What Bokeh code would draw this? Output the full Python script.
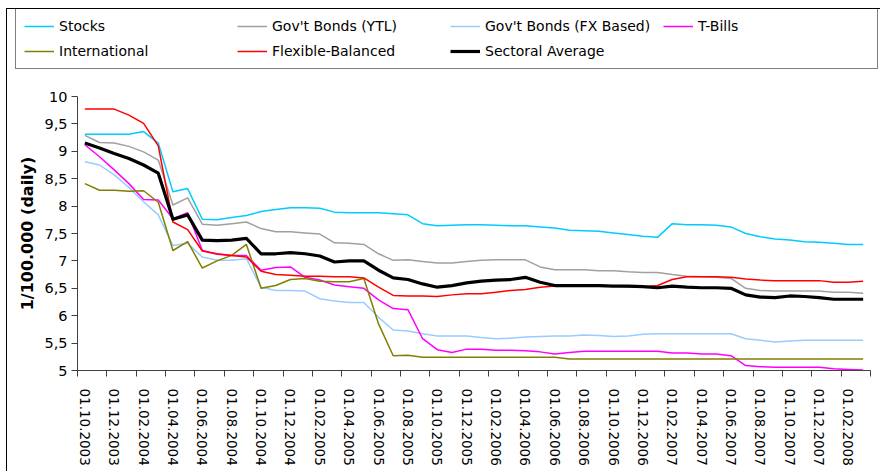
from bokeh.plotting import figure
from bokeh.models import Range1d, FixedTicker, Legend, LegendItem
from bokeh.embed import file_html
from bokeh.resources import INLINE

# monthly categories 01.10.2003 ... 01.03.2008 (index positions 0..53)
months = ["01.10.2003", "01.11.2003", "01.12.2003",
          "01.01.2004", "01.02.2004", "01.03.2004", "01.04.2004", "01.05.2004", "01.06.2004",
          "01.07.2004", "01.08.2004", "01.09.2004", "01.10.2004", "01.11.2004", "01.12.2004",
          "01.01.2005", "01.02.2005", "01.03.2005", "01.04.2005", "01.05.2005", "01.06.2005",
          "01.07.2005", "01.08.2005", "01.09.2005", "01.10.2005", "01.11.2005", "01.12.2005",
          "01.01.2006", "01.02.2006", "01.03.2006", "01.04.2006", "01.05.2006", "01.06.2006",
          "01.07.2006", "01.08.2006", "01.09.2006", "01.10.2006", "01.11.2006", "01.12.2006",
          "01.01.2007", "01.02.2007", "01.03.2007", "01.04.2007", "01.05.2007", "01.06.2007",
          "01.07.2007", "01.08.2007", "01.09.2007", "01.10.2007", "01.11.2007", "01.12.2007",
          "01.01.2008", "01.02.2008", "01.03.2008"]

stocks = [9.31, 9.31, 9.31, 9.31, 9.36, 9.15, 8.26, 8.32, 7.76,
          7.75, 7.79, 7.83, 7.90, 7.94, 7.97, 7.97, 7.96, 7.89,
          7.88, 7.88, 7.88, 7.86, 7.84, 7.68, 7.64, 7.65, 7.66,
          7.66, 7.65, 7.64, 7.64, 7.62, 7.60, 7.56, 7.55, 7.54,
          7.51, 7.48, 7.45, 7.43, 7.68, 7.66, 7.66, 7.65, 7.62,
          7.50, 7.44, 7.40, 7.38, 7.35, 7.34, 7.32, 7.30, 7.30]

govt_ytl = [9.29, 9.16, 9.15, 9.09, 8.99, 8.84, 8.02, 8.15, 7.67,
            7.65, 7.68, 7.71, 7.59, 7.53, 7.53, 7.51, 7.49, 7.33,
            7.32, 7.30, 7.13, 7.01, 7.02, 6.99, 6.96, 6.96, 6.99,
            7.01, 7.02, 7.02, 7.02, 6.89, 6.84, 6.84, 6.84, 6.82,
            6.82, 6.80, 6.79, 6.79, 6.75, 6.72, 6.71, 6.70, 6.68,
            6.50, 6.46, 6.45, 6.45, 6.45, 6.45, 6.43, 6.43, 6.41]

govt_fx = [8.81, 8.75, 8.57, 8.34, 8.08, 7.84, 7.28, 7.32, 7.07,
           7.01, 7.01, 7.04, 6.52, 6.46, 6.46, 6.45, 6.31, 6.27,
           6.24, 6.24, 5.97, 5.74, 5.72, 5.67, 5.63, 5.63, 5.63,
           5.60, 5.58, 5.59, 5.61, 5.62, 5.63, 5.63, 5.65, 5.64,
           5.62, 5.63, 5.66, 5.67, 5.67, 5.67, 5.67, 5.67, 5.67,
           5.58, 5.55, 5.52, 5.54, 5.55, 5.55, 5.55, 5.55, 5.55]

t_bills = [9.12, 8.90, 8.66, 8.41, 8.12, 8.11, 7.77, 7.88, 7.19,
           7.12, 7.10, 7.10, 6.83, 6.88, 6.89, 6.70, 6.65, 6.56,
           6.53, 6.50, 6.29, 6.13, 6.11, 5.58, 5.38, 5.33, 5.39,
           5.39, 5.37, 5.37, 5.36, 5.34, 5.30, 5.33, 5.35, 5.35,
           5.35, 5.35, 5.35, 5.35, 5.32, 5.32, 5.30, 5.30, 5.27,
           5.09, 5.07, 5.06, 5.06, 5.06, 5.06, 5.03, 5.02, 5.01]

international = [8.41, 8.29, 8.29, 8.27, 8.28, 8.07, 7.19, 7.35, 6.87,
                 7.00, 7.10, 7.30, 6.50, 6.55, 6.66, 6.68, 6.63, 6.62,
                 6.62, 6.68, 5.85, 5.27, 5.28, 5.24, 5.24, 5.24, 5.24,
                 5.24, 5.24, 5.24, 5.24, 5.24, 5.24, 5.21, 5.21, 5.21,
                 5.21, 5.21, 5.21, 5.21, 5.21, 5.21, 5.21, 5.21, 5.21,
                 5.21, 5.21, 5.21, 5.21, 5.21, 5.21, 5.21, 5.21, 5.21]

flexible = [9.77, 9.77, 9.77, 9.66, 9.51, 9.10, 7.71, 7.57, 7.18,
            7.13, 7.10, 7.07, 6.81, 6.75, 6.74, 6.72, 6.72, 6.71,
            6.71, 6.69, 6.52, 6.37, 6.36, 6.36, 6.35, 6.38, 6.40,
            6.40, 6.43, 6.46, 6.48, 6.52, 6.54, 6.54, 6.54, 6.54,
            6.54, 6.53, 6.53, 6.55, 6.66, 6.71, 6.71, 6.71, 6.70,
            6.67, 6.65, 6.64, 6.64, 6.64, 6.64, 6.61, 6.61, 6.63]

sectoral = [9.15, 9.06, 8.96, 8.87, 8.75, 8.60, 7.76, 7.84, 7.38,
            7.37, 7.38, 7.41, 7.13, 7.13, 7.15, 7.13, 7.09, 6.98,
            7.00, 7.00, 6.83, 6.69, 6.66, 6.58, 6.52, 6.55, 6.60,
            6.63, 6.65, 6.66, 6.70, 6.61, 6.55, 6.55, 6.55, 6.55,
            6.54, 6.54, 6.53, 6.51, 6.54, 6.52, 6.51, 6.51, 6.50,
            6.38, 6.34, 6.33, 6.36, 6.35, 6.33, 6.30, 6.30, 6.30]

legend_labels = ["Stocks", "Gov't Bonds (YTL)", "Gov't Bonds (FX Based)", "T-Bills",
                 "International", "Flexible-Balanced", "Sectoral Average"]
series_values = [stocks, govt_ytl, govt_fx, t_bills, international, flexible, sectoral]
series_colors = ["#00CCFF", "#A0A0A0", "#99CCFF", "#FF00FF", "#808000", "#FF0000", "#000000"]
series_widths = [1.5, 1.5, 1.5, 1.5, 1.5, 1.5, 3.2]

y_ticks = [5, 5.5, 6, 6.5, 7, 7.5, 8, 8.5, 9, 9.5, 10]
y_tick_labels = ["5", "5,5", "6", "6,5", "7", "7,5", "8", "8,5", "9", "9,5", "10"]

x = list(range(len(months)))
x_label_pos = x[0:53:2]
x_tick_labels = months[0:53:2]
x_tick_marks = [i - 0.5 for i in range(0, 55, 2)]   # tick marks between categories

FONT = "DejaVu Sans"
AXIS_COLOR = "#404040"
W = 874

# ---------- legend strip: its own root, so the box may span the whole chart width
leg = figure(width=W, height=64, x_range=Range1d(-1, 0), y_range=Range1d(-1, 0),
             output_backend="svg", toolbar_location=None,
             x_axis_location=None, y_axis_location=None, min_border=0)
leg.outline_line_color = None
leg.xgrid.visible = False
leg.ygrid.visible = False
leg.styles = {"margin-left": "6px", "margin-top": "8px",
              "border-left": "1px solid black", "border-top": "1px solid black"}

items = []
for lab, vals, col, w in zip(legend_labels, series_values, series_colors, series_widths):
    # legend-key line only: its single point lies outside this strip's ranges
    r = leg.line(x[:1], vals[:1], line_color=col, line_width=w)
    items.append(LegendItem(label=lab, renderers=[r]))

legend = Legend(items=items, location=(8, 4), orientation="horizontal", ncols=4,
                margin=0, padding=8, spacing=7, glyph_width=30, glyph_height=18,
                label_height=18, label_width=171, label_standoff=5,
                label_text_font=FONT, label_text_font_size="14px", label_text_color="black",
                border_line_color="black", border_line_width=1,
                background_fill_color="white", background_fill_alpha=1.0)
leg.add_layout(legend)

# ---------- main chart
p = figure(width=W, height=399, x_range=Range1d(-0.5, 53.5), y_range=Range1d(5, 10),
           output_backend="svg", toolbar_location=None,
           min_border_left=70, min_border_right=11, min_border_top=24, min_border_bottom=101)
p.outline_line_color = None
p.xgrid.visible = False
p.ygrid.visible = False
p.styles = {"margin-left": "6px", "border-left": "1px solid black"}

for vals, col, w in zip(series_values, series_colors, series_widths):
    p.line(x, vals, line_color=col, line_width=w, line_join="round")

ya = p.yaxis[0]
ya.ticker = FixedTicker(ticks=y_ticks)
ya.major_label_overrides = dict(zip(y_ticks, y_tick_labels))
ya.minor_tick_line_color = None
ya.major_tick_in = 0
ya.major_tick_out = 6
ya.major_label_standoff = 4
ya.axis_line_color = AXIS_COLOR
ya.major_tick_line_color = AXIS_COLOR
ya.major_label_text_font = FONT
ya.major_label_text_font_size = "14.5px"
ya.major_label_text_color = "black"
ya.axis_label = "1/100.000 (daily)"
ya.axis_label_text_font = FONT
ya.axis_label_text_font_style = "bold"
ya.axis_label_text_font_size = "16px"
ya.axis_label_text_color = "black"
ya.axis_label_standoff = 4

xa = p.xaxis[0]
xa.ticker = FixedTicker(ticks=x_label_pos, minor_ticks=x_tick_marks)
xa.major_label_overrides = dict(zip(x_label_pos, x_tick_labels))
xa.major_tick_line_color = None
xa.major_tick_in = 0
xa.major_tick_out = 0
xa.minor_tick_in = 0
xa.minor_tick_out = 6
xa.minor_tick_line_color = AXIS_COLOR
xa.axis_line_color = AXIS_COLOR
xa.major_label_orientation = "vertical"
xa.major_label_standoff = 12
xa.major_label_text_font = FONT
xa.major_label_text_font_size = "13.5px"
xa.major_label_text_color = "black"

open("out.html", "w").write(file_html([leg, p], INLINE))
